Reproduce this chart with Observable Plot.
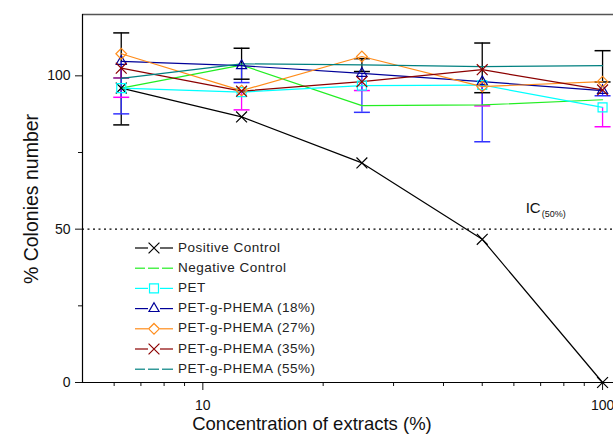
<!DOCTYPE html>
<html><head><meta charset="utf-8">
<script src="https://cdn.jsdelivr.net/npm/d3@7"></script>
<script src="https://cdn.jsdelivr.net/npm/@observablehq/plot@0.6"></script>
<style>
body{margin:0;background:#fff;}
#wrap{position:relative;width:613px;height:435px;overflow:hidden;font-family:"Liberation Sans",Arial,sans-serif;}
#overlay{position:absolute;left:0;top:0;pointer-events:none;}
</style></head><body><div id="wrap"></div>
<script>
// ---- data ----
const concentrations = [6.25, 12.5, 25, 50, 100];
const seriesNames = ["Positive Control","Negative Control","PET","PET-g-PHEMA (18%)","PET-g-PHEMA (27%)","PET-g-PHEMA (35%)","PET-g-PHEMA (55%)"];
const positiveControl = [96, 86.6, 71.6, 46.7, 0];
const negativeControl = [96, 103.5, 90.3, 90.5, 92.2];
const pet = [96, 94.7, 96.8, 97, 89.7];
const phema18 = [104.7, 103.3, 100.8, 98.1, 95.2];
const phema27 = [107.2, 95.2, 106.3, 96.5, 98.1];
const phema35 = [102.5, 95, 98.1, 102, 95.4];
const phema55 = [99.2, 103.9, 103.6, 103, 103.3];
// error bars (low / high)
const phema55Low = [84, 98.9, 101.4, 94.5, 98];
const phema55High = [114, 109, 105.6, 110.7, 108.2];
const petLow = [93, 88.9, 95.2, 90.2, 83.4];
const phema18Low = [87.6, 97.8, 88.1, 78.5, 93.5];
const phema35Low = [99.3, null, null, null, null];
const xTickLabels = [10, 100];
const xMinorTicks = [6, 7, 8, 9, 20, 30, 40, 50, 60, 70, 80, 90];
const yTickLabels = [0, 50, 100];
const yMinorTicks = [25, 75];
const icLevel = [50];
const icLabel = [{x: 70, y: 57, text: "IC", sub: "(50%)"}];
const xDomain = [5, 106.5];
const yDomain = [0, 120];

// ---- styles ----
const seriesValues = [positiveControl, negativeControl, pet, phema18, phema27, phema35, phema55];
const colors = ["#000000", "#22ee22", "#00ffff", "#000099", "#ff8c1a", "#8b0000", "#008080"];
const symbols = ["times", null, "square2", "triangle2", "diamond2", "times", null];
const radii = [5, 0, 5.7, 4.8, 4.8, 5, 0];

const rows = [];
seriesNames.forEach((name, i) => concentrations.forEach((c, j) => rows.push({series: name, idx: i, x: c, y: seriesValues[i][j]})));

const errRows = [];
function addErr(lows, highs, vals, color) {
  concentrations.forEach((c, j) => {
    const lo = lows ? lows[j] : null;
    const hi = highs ? highs[j] : null;
    if (lo == null && hi == null) return;
    errRows.push({x: c, y1: lo != null ? lo : vals[j], y2: hi != null ? hi : vals[j], lo, hi, color});
  });
}
addErr(phema55Low, phema55High, phema55, "#000000");
addErr(petLow, null, pet, "#ff00ff");
addErr(phema18Low, null, phema18, "#3333ff");
addErr(phema35Low, null, phema35, "#800080");
const capRows = [];
errRows.forEach(e => { if (e.lo != null) capRows.push({x: e.x, y: e.lo, color: e.color}); if (e.hi != null) capRows.push({x: e.x, y: e.hi, color: e.color}); });

const capSymbol = {draw(ctx, size) { const w = Math.sqrt(size / Math.PI); ctx.moveTo(-w, 0); ctx.lineTo(w, 0); }};

const marks = [
  Plot.ruleY(yDomain.slice(1), {stroke: "#555", strokeWidth: 1.5}),
  Plot.ruleY(icLevel, {stroke: "#000", strokeDasharray: "2,3.5", strokeWidth: 1.2}),
  Plot.ruleX(errRows, {x: "x", y1: "y1", y2: "y2", stroke: "color", strokeWidth: 1.3}),
  Plot.dot(capRows, {x: "x", y: "y", symbol: capSymbol, r: 8, stroke: "color", strokeWidth: 1.5, fill: "none"}),
];
seriesNames.forEach((name, i) => {
  const d = rows.filter(r => r.idx === i);
  marks.push(Plot.line(d, {x: "x", y: "y", stroke: colors[i], strokeWidth: 1.2}));
});
seriesNames.forEach((name, i) => {
  if (!symbols[i]) return;
  const d = rows.filter(r => r.idx === i);
  marks.push(Plot.dot(d, {x: "x", y: "y", symbol: symbols[i], r: radii[i], stroke: colors[i], strokeWidth: 1.2, fill: "none"}));
});
marks.push(
  Plot.text(icLabel, {x: "x", y: "y", text: "text", fontSize: 15, fill: "#111", textAnchor: "end"}),
  Plot.text(icLabel, {x: "x", y: "y", text: "sub", fontSize: 9, fill: "#111", textAnchor: "start", dx: 1, dy: 6}),
  Plot.axisY({ticks: yTickLabels, tickSize: 7, tickPadding: 5, fontSize: 14, label: null, tickFormat: d3.format("d")}),
  Plot.axisY({ticks: yMinorTicks, tickSize: 4, tickFormat: () => "", label: null}),
  Plot.axisX({ticks: xTickLabels, tickSize: 8, tickPadding: 10, fontSize: 14, label: null, tickFormat: d3.format("d")}),
  Plot.axisX({ticks: xMinorTicks, tickSize: 4, tickFormat: () => "", label: null}),
  Plot.ruleX(xDomain.slice(0, 1), {stroke: "#000", strokeWidth: 1.2}),
  Plot.ruleY(yDomain.slice(0, 1), {stroke: "#000", strokeWidth: 1.2})
);

const chart = Plot.plot({
  width: 613, height: 435,
  marginLeft: 82, marginRight: 0, marginTop: 14, marginBottom: 53,
  x: {type: "log", domain: xDomain},
  y: {domain: yDomain},
  style: {fontFamily: "'Liberation Sans', Arial, sans-serif", fontSize: "14px", background: "white", overflow: "visible", color: "#111"},
  marks
});
const wrap = document.getElementById("wrap");
wrap.appendChild(chart);

// ---- overlay: axis titles + legend ----
const ov = d3.select(wrap).append("svg").attr("id", "overlay").attr("width", 613).attr("height", 435)
  .style("font-family", "'Liberation Sans', Arial, sans-serif");
ov.append("text").attr("transform", "translate(33,199) rotate(-90)").attr("text-anchor", "middle")
  .attr("dominant-baseline", "middle").attr("font-size", 19.5).attr("fill", "#111").text("% Colonies number");
ov.append("text").attr("x", 312).attr("y", 430).attr("text-anchor", "middle")
  .attr("font-size", 18.5).attr("fill", "#111").text("Concentration of extracts (%)");

const lg = ov.append("g");
seriesNames.forEach((name, i) => {
  const cy = 248 + i * 20.2;
  const g = lg.append("g");
  if (symbols[i]) {
    g.append("line").attr("x1", 135).attr("x2", 148).attr("y1", cy).attr("y2", cy).attr("stroke", colors[i]).attr("stroke-width", 1.2);
    g.append("line").attr("x1", 160).attr("x2", 173).attr("y1", cy).attr("y2", cy).attr("stroke", colors[i]).attr("stroke-width", 1.2);
    const symMap = {times: d3.symbolTimes, square2: d3.symbolSquare2, triangle2: d3.symbolTriangle2, diamond2: d3.symbolDiamond2};
    g.append("path").attr("transform", `translate(154,${cy})`)
      .attr("d", d3.symbol(symMap[symbols[i]], Math.PI * radii[i] * radii[i])())
      .attr("fill", "none").attr("stroke", colors[i]).attr("stroke-width", 1.2);
  } else {
    [[135, 145], [148, 159], [162, 173]].forEach(([a, b]) =>
      g.append("line").attr("x1", a).attr("x2", b).attr("y1", cy).attr("y2", cy).attr("stroke", colors[i]).attr("stroke-width", 1.2));
  }
  g.append("text").attr("x", 178).attr("y", cy).attr("dominant-baseline", "middle")
    .attr("font-size", 13.5).attr("letter-spacing", "0.5px").attr("fill", "#222").text(name);
});
</script></body></html>
